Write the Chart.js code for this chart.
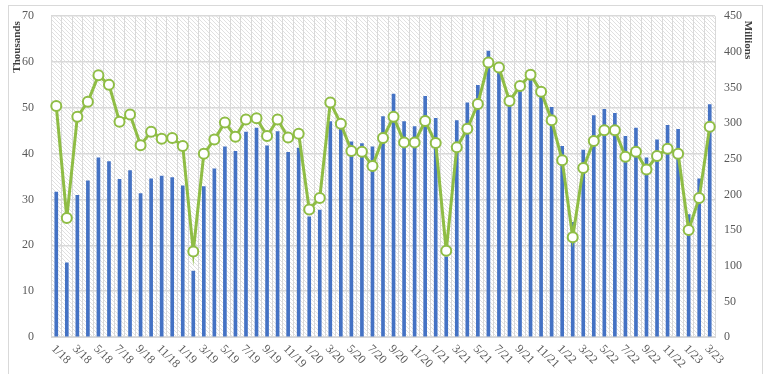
<!DOCTYPE html>
<html><head><meta charset="utf-8">
<script src="https://cdn.jsdelivr.net/npm/chart.js@4"></script>
<style>html,body{margin:0;padding:0;background:#fff;overflow:hidden}</style>
</head><body>
<canvas id="c" width="765" height="374"></canvas>
<script>
const categories = ["1/18","2/18","3/18","4/18","5/18","6/18","7/18","8/18","9/18","10/18","11/18","12/18",
"1/19","2/19","3/19","4/19","5/19","6/19","7/19","8/19","9/19","10/19","11/19","12/19",
"1/20","2/20","3/20","4/20","5/20","6/20","7/20","8/20","9/20","10/20","11/20","12/20",
"1/21","2/21","3/21","4/21","5/21","6/21","7/21","8/21","9/21","10/21","11/21","12/21",
"1/22","2/22","3/22","4/22","5/22","6/22","7/22","8/22","9/22","10/22","11/22","12/22",
"1/23","2/23","3/23"];
const thousands = [31.6,16.2,30.9,34.1,39.1,38.3,34.4,36.3,31.3,34.5,35.1,34.8,
33.0,14.4,32.8,36.7,41.5,40.5,44.7,45.6,41.7,44.8,40.3,41.2,
26.2,27.7,47.0,45.4,42.6,42.2,41.5,48.1,53.0,47.0,45.9,52.5,
47.7,17.5,47.2,51.1,54.9,62.4,59.0,52.0,53.7,56.0,53.0,50.1,
41.6,25.0,40.8,48.3,49.7,48.8,43.8,45.6,39.1,43.0,46.2,45.3,
26.7,34.5,50.7];
const millions = [324,167,309,330,367,354,302,312,269,288,278,279,
268,120,257,277,301,281,305,307,282,305,280,285,
179,195,329,299,261,260,240,279,309,273,273,303,
272,121,266,292,327,385,378,331,352,368,344,304,
248,140,237,275,290,290,253,260,235,254,264,257,
150,195,295];
const leftAxisTitle = "Thousands";
const rightAxisTitle = "Millions";

const SERIF = '"Liberation Serif","Times New Roman",serif';
const TICK_COLOR = '#595959';

function makeHatch(ctx){
  const t = document.createElement('canvas');
  t.width = 4; t.height = 4;
  const g = t.getContext('2d');
  g.fillStyle = '#ffffff'; g.fillRect(0,0,4,4);
  g.strokeStyle = '#dcdcdc'; g.lineWidth = 0.9;
  g.beginPath();
  g.moveTo(-1,-1); g.lineTo(5,5);
  g.moveTo(-1,3); g.lineTo(1,5);
  g.moveTo(3,-1); g.lineTo(5,1);
  g.stroke();
  return ctx.createPattern(t,'repeat');
}

const decor = {
  id:'decor',
  beforeDraw(chart){
    const {ctx, chartArea:a} = chart;
    ctx.save();
    ctx.fillStyle='#fff'; ctx.fillRect(0,0,chart.width,chart.height);
    ctx.strokeStyle='#d9d9d9'; ctx.lineWidth=1;
    ctx.strokeRect(8.5,5.5,754,380);
    ctx.fillStyle = makeHatch(ctx);
    ctx.fillRect(a.left,a.top,a.right-a.left,a.bottom-a.top);
    ctx.restore();
  },
  afterDraw(chart){
    const {ctx, chartArea:a} = chart;
    const xs = chart.scales.x;
    ctx.save();
    ctx.fillStyle = TICK_COLOR;
    ctx.font = '12px '+SERIF;
    ctx.textAlign='left'; ctx.textBaseline='middle';
    categories.forEach((c,i)=>{
      if(i%2!==0) return;
      const px = xs.getPixelForValue(i);
      ctx.save();
      ctx.translate(px-3, a.bottom+10);
      ctx.rotate(Math.PI/4);
      ctx.fillText(c,0,0);
      ctx.restore();
    });
    ctx.fillStyle = '#404040';
    ctx.font = 'bold 11px '+SERIF;
    ctx.textAlign='center';
    ctx.save(); ctx.translate(17,47); ctx.rotate(-Math.PI/2); ctx.fillText(leftAxisTitle,0,0); ctx.restore();
    ctx.save(); ctx.translate(748,40); ctx.rotate(Math.PI/2); ctx.fillText(rightAxisTitle,0,0); ctx.restore();
    ctx.restore();
  }
};

new Chart(document.getElementById('c'),{
  data:{
    labels:categories,
    datasets:[
      {type:'line',label:'Millions',data:millions,yAxisID:'y1',order:0,
       borderColor:'#8fbd45',borderWidth:3,pointRadius:5,pointBorderWidth:2,
       pointBackgroundColor:'#ffffff',pointBorderColor:'#8fbd45',tension:0},
      {type:'bar',label:'Thousands',data:thousands,yAxisID:'y',order:1,
       backgroundColor:'#4472c4',barThickness:3}
    ]
  },
  options:{
    responsive:false,animation:false,
    layout:{padding:{left:22,right:14,top:15,bottom:37}},
    plugins:{legend:{display:false},tooltip:{enabled:false}},
    scales:{
      x:{offset:true,grid:{offset:true,color:'#d9d9d9',lineWidth:1,drawTicks:false},
         border:{color:'#d9d9d9'},ticks:{display:false}},
      y:{position:'left',min:0,max:70,ticks:{stepSize:10,padding:0,color:TICK_COLOR,font:{family:SERIF,size:12}},
         grid:{color:'#d9d9d9',lineWidth:1.5,drawTicks:true,tickLength:17,tickColor:'rgba(0,0,0,0)'},border:{display:false}},
      y1:{position:'right',min:0,max:450,ticks:{stepSize:50,padding:9,color:TICK_COLOR,font:{family:SERIF,size:12}},
         grid:{display:false,drawTicks:false},border:{display:false}}
    }
  },
  plugins:[decor]
});
</script>
</body></html>
